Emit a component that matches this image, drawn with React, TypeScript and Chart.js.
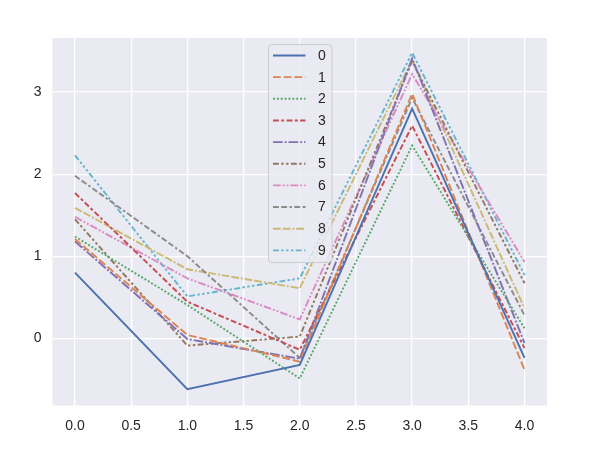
import React, { useEffect, useRef } from "react";
import { Chart, registerables } from "chart.js";

Chart.register(...registerables);

const xValues = [0, 1, 2, 3, 4];
const seriesLabels = ["0", "1", "2", "3", "4", "5", "6", "7", "8", "9"];
const s0 = [0.8, -0.62, -0.325, 2.8, -0.24];
const s1 = [1.21, 0.04, -0.285, 2.98, -0.385];
const s2 = [1.24, 0.405, -0.49, 2.35, 0.12];
const s3 = [1.77, 0.445, -0.14, 2.59, -0.12];
const s4 = [1.18, -0.01, -0.25, 3.41, -0.06];
const s5 = [1.45, -0.09, 0.02, 3.38, 0.67];
const s6 = [1.48, 0.73, 0.23, 3.22, 0.93];
const s7 = [1.98, 1.0, -0.24, 2.93, 0.28];
const s8 = [1.59, 0.84, 0.61, 3.39, 0.365];
const s9 = [2.23, 0.51, 0.73, 3.48, 0.77];
const seriesValues = [s0, s1, s2, s3, s4, s5, s6, s7, s8, s9];
const xTicks = [0, 0.5, 1, 1.5, 2, 2.5, 3, 3.5, 4];
const yTicks = [0, 1, 2, 3];

const colors = [
  "#4C72B0", "#DD8452", "#55A868", "#C44E52", "#8172B3",
  "#937860", "#DA8BC3", "#8C8C8C", "#CCB974", "#64B5CD",
];
const LW = 1.94;
const dashUnits: number[][] = [
  [],
  [4, 1.5],
  [1, 1],
  [3, 1.25, 1.5, 1.25],
  [5, 1, 1, 1],
  [3, 1.25, 1.25, 1.25, 1.25, 1.25],
  [4, 1, 1, 1, 1, 1],
  [3, 1.25, 3, 1.25, 1.25, 1.25],
  [4, 1, 4, 1, 1, 1],
  [3, 1.25, 1.25, 1.25, 1.25, 1.25, 1.25, 1.25],
];
const dashes = dashUnits.map((d) => d.map((v) => v * LW));
const FONT = "'Liberation Sans', Arial, sans-serif";
const TEXT = "#262626";

const bgPlugin = {
  id: "bgPlugin",
  beforeDraw(chart: any) {
    const { ctx, chartArea } = chart;
    ctx.save();
    ctx.fillStyle = "#EAEAF2";
    ctx.fillRect(chartArea.left, chartArea.top, chartArea.right - chartArea.left, chartArea.bottom - chartArea.top);
    ctx.restore();
  },
};

const legendPlugin = {
  id: "mplLegend",
  afterDraw(chart: any) {
    const ctx = chart.ctx;
    const bx = 268.5, by = 44.5, bw = 63.5, bh = 218, r = 3.5;
    ctx.save();
    ctx.beginPath();
    ctx.moveTo(bx + r, by);
    ctx.lineTo(bx + bw - r, by);
    ctx.arcTo(bx + bw, by, bx + bw, by + r, r);
    ctx.lineTo(bx + bw, by + bh - r);
    ctx.arcTo(bx + bw, by + bh, bx + bw - r, by + bh, r);
    ctx.lineTo(bx + r, by + bh);
    ctx.arcTo(bx, by + bh, bx, by + bh - r, r);
    ctx.lineTo(bx, by + r);
    ctx.arcTo(bx, by, bx + r, by, r);
    ctx.closePath();
    ctx.fillStyle = "rgba(234,234,242,0.8)";
    ctx.fill();
    ctx.strokeStyle = "#CCCCCC";
    ctx.lineWidth = 1;
    ctx.stroke();
    seriesLabels.forEach((lab, i) => {
      const y = 55.5 + i * 21.65;
      ctx.beginPath();
      ctx.setLineDash(dashes[i]);
      ctx.strokeStyle = colors[i];
      ctx.lineWidth = LW;
      ctx.moveTo(273, y);
      ctx.lineTo(305.5, y);
      ctx.stroke();
      ctx.setLineDash([]);
      ctx.fillStyle = TEXT;
      ctx.font = `14px ${FONT}`;
      ctx.textBaseline = "middle";
      ctx.textAlign = "left";
      ctx.fillText(lab, 318, y + 0.5);
    });
    ctx.restore();
  },
};

export default function App() {
  const ref = useRef<HTMLCanvasElement | null>(null);
  useEffect(() => {
    document.body.style.margin = "0";
    if (!ref.current) return;
    const chart = new Chart(ref.current, {
      type: "line",
      data: {
        datasets: seriesValues.map((vals, i) => ({
          label: seriesLabels[i],
          data: xValues.map((x, j) => ({ x, y: vals[j] })),
          borderColor: colors[i],
          backgroundColor: colors[i],
          borderWidth: LW,
          borderDash: dashes[i],
          pointRadius: 0,
          tension: 0,
          fill: false,
        })),
      },
      options: {
        animation: false,
        responsive: false,
        devicePixelRatio: 1,
        layout: { padding: { left: 0, right: 48, top: 38, bottom: 0 } },
        plugins: { legend: { display: false }, tooltip: { enabled: false } },
        scales: {
          x: {
            type: "linear",
            min: -0.2,
            max: 4.2,
            afterBuildTicks: (s: any) => { s.ticks = xTicks.map((v) => ({ value: v })); },
            afterFit: (s: any) => { s.height = 43.5; },
            grid: { color: "#FFFFFF", lineWidth: 1.3, drawTicks: false },
            border: { display: false },
            ticks: {
              padding: 12,
              color: TEXT,
              font: { family: FONT, size: 14 },
              callback: (v: any) => Number(v).toFixed(1),
              autoSkip: false,
              maxRotation: 0,
            },
          },
          y: {
            type: "linear",
            min: -0.82,
            max: 3.66,
            afterBuildTicks: (s: any) => { s.ticks = yTicks.map((v) => ({ value: v })); },
            afterFit: (s: any) => { s.width = 52.5; },
            grid: { color: "#FFFFFF", lineWidth: 1.3, drawTicks: false },
            border: { display: false },
            ticks: {
              padding: 11,
              color: TEXT,
              font: { family: FONT, size: 14 },
              callback: (v: any) => String(Math.round(Number(v))),
              autoSkip: false,
            },
          },
        },
      },
      plugins: [bgPlugin, legendPlugin],
    });
    return () => chart.destroy();
  }, []);
  return (
    <div style={{ position: "absolute", left: 0, top: 0, width: 595, height: 449 }}>
      <canvas ref={ref} width={595} height={449} style={{ width: 595, height: 449 }} />
    </div>
  );
}
